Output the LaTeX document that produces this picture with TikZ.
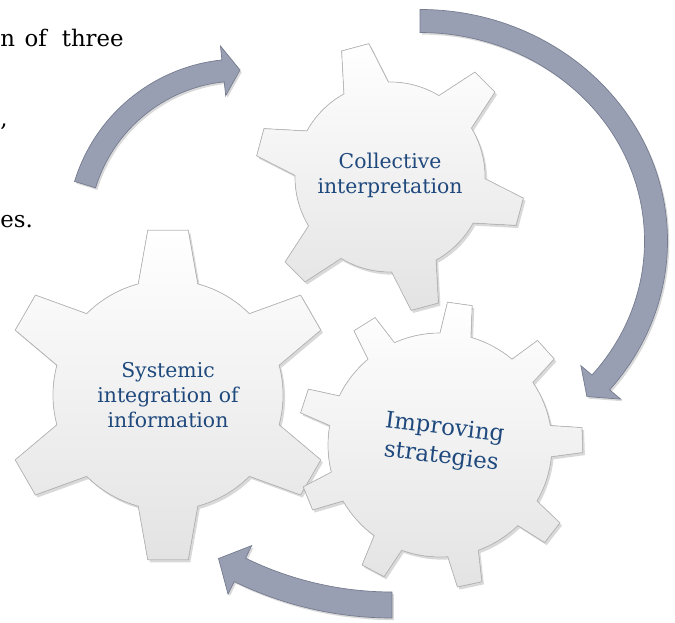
\documentclass[tikz,border=0pt]{standalone}
\usepackage{fontspec}
\setmainfont{DejaVu Serif}
\usetikzlibrary{shadows}

\definecolor{labelblue}{RGB}{31,73,125}
\definecolor{arrowgray}{RGB}{152,159,178}
\definecolor{arrowedge}{RGB}{118,124,144}

% gear: teeth, body radius, tip radius, first tooth angle, half base angle, half tip angle
\newcommand{\gear}[6]{%
  \pgfmathsetmacro{\gstep}{360/#1}
  \filldraw[gearbody] ({#4+#5}:#2)
    \foreach \i in {1,...,#1}{
      arc[start angle={#4+(\i-1)*\gstep+#5}, end angle={#4+\i*\gstep-#5}, radius=#2]
      -- ({#4+\i*\gstep-#6}:#3) -- ({#4+\i*\gstep+#6}:#3) -- ({#4+\i*\gstep+#5}:#2)
    } -- cycle;}

% curved block arrow: centre, x radius, y radius, tail angle, head angle, tip angle, half shaft, half head
\newcommand{\cyclearrow}[8]{%
  \begin{scope}[shift={(#1)}]
  \filldraw[arrowbody] ({#4}:{#2+#7} and {#3+#7})
    arc[start angle=#4, end angle=#5, x radius=#2+#7, y radius=#3+#7]
    -- ({#5}:{#2+#8} and {#3+#8}) -- ({#6}:{#2} and {#3})
    -- ({#5}:{#2-#8} and {#3-#8}) -- ({#5}:{#2-#7} and {#3-#7})
    arc[start angle=#5, end angle=#4, x radius=#2-#7, y radius=#3-#7] -- cycle;
  \end{scope}}

\begin{document}
\begin{tikzpicture}[x=0.02cm, y=0.02cm,
    gearbody/.style={draw=gray!55, line width=0.4pt, top color=white, bottom color=gray!22,
      drop shadow={shadow xshift=1.2pt, shadow yshift=-1.5pt, opacity=0.3}},
    arrowbody/.style={draw=arrowedge, line width=0.4pt, fill=arrowgray,
      drop shadow={shadow xshift=1pt, shadow yshift=-1.2pt, opacity=0.3}},
    gearlabel/.style={text=labelblue, align=center, font=\fontsize{11.6}{14.2}\selectfont},
    bodytext/.style={inner sep=0pt, font=\fontsize{13}{16}\selectfont}]
  \useasboundingbox (0,0) rectangle (675,622);

  % text of the page running beside the figure
  \node[bodytext, anchor=base west] (line1) at (0,575) {n\hspace{5.5pt}of\hspace{8.5pt}three};
  \node[bodytext, anchor=base west] (line2) at (0,495) {,};
  \node[bodytext, anchor=base west] (line3) at (0,394) {es.};

  % the three gears
  \begin{scope}[shift={(168,227)}]
    \gear{6}{115}{166}{30}{15}{7}
    \node[gearlabel] (systemic) at (0,0) {Systemic\\integration of\\information};
  \end{scope}

  \begin{scope}[shift={(390,445)}]
    \gear{6}{95}{135}{45}{14}{6}
    \node[gearlabel] (collective) at (0,2) {Collective\\interpretation};
  \end{scope}

  \begin{scope}[shift={(440,177)}]
    \gear{9}{112}{143}{2}{8}{5}
    \node[gearlabel, rotate=-7, font=\fontsize{13}{16.5}\selectfont] (improving) at (3,2) {Improving\\strategies};
  \end{scope}

  % arrows going round clockwise
  \coordinate (loopA) at (240,390);
  \coordinate (loopB) at (420,381);
  \coordinate (loopC) at (392,364);
  \cyclearrow{loopA}{162}{162}{163}{96}{90}{11}{25}
  \cyclearrow{loopB}{236}{220}{90}{-40}{-45}{11.5}{26}
  \cyclearrow{loopC}{347}{347}{-90}{-116}{-120}{13}{27}

\end{tikzpicture}
\end{document}
